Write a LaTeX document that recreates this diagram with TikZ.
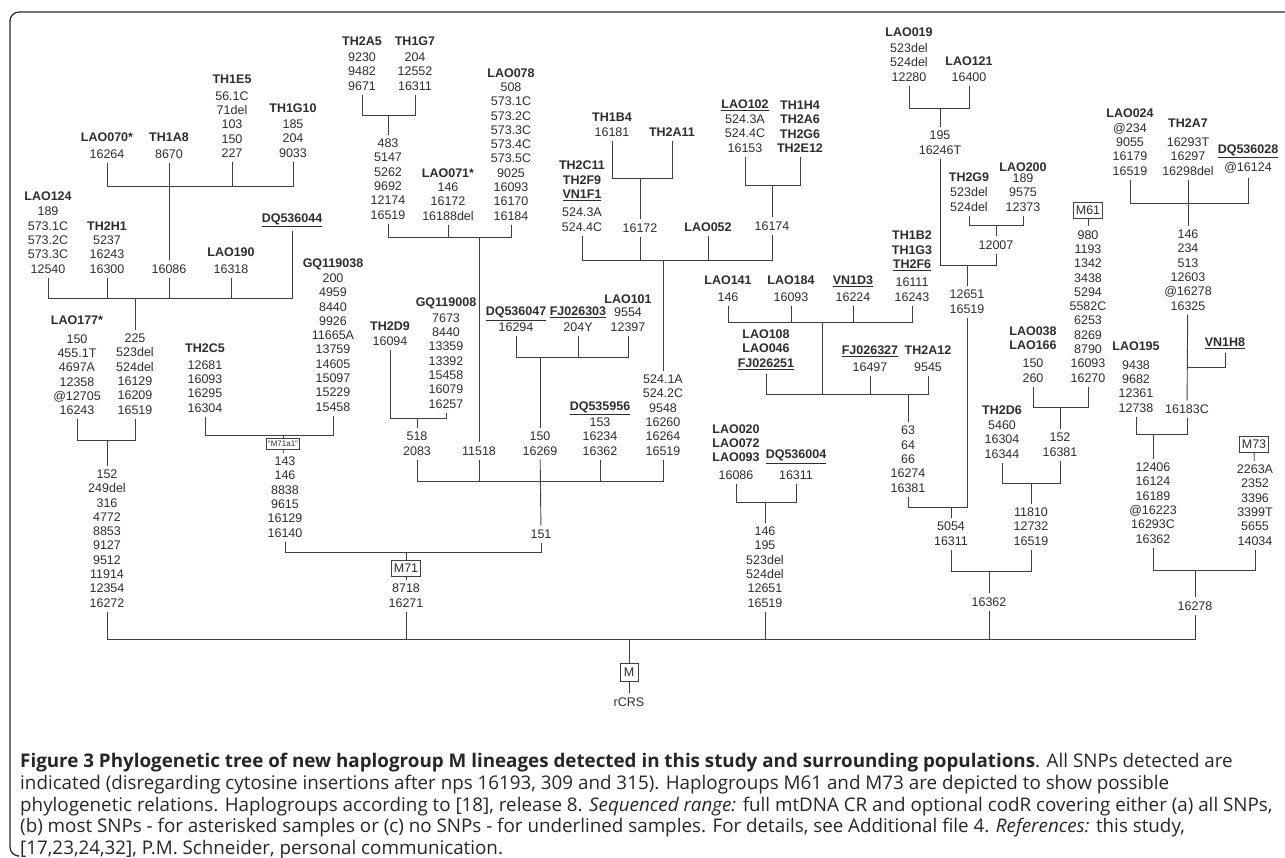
\documentclass[tikz,border=0pt]{standalone}
\usepackage{fontspec}
\setmainfont{Liberation Sans}
\newfontfamily\capfont{Open Sans}
\definecolor{treeline}{RGB}{64,64,64}
\definecolor{treetext}{RGB}{45,45,45}
\newcommand{\smp}[1]{\textbf{#1}}
\newcommand{\usmp}[1]{\underline{\textbf{#1}}}
\tikzset{
  wire/.style={draw=treeline,line width=0.9pt},
  val/.style={font=\fontsize{12.5}{14.3}\selectfont,text=treetext,align=center,
              inner xsep=1pt,inner ysep=4pt},
  hap/.style={draw=treeline,line width=0.8pt,font=\fontsize{12.5}{14}\selectfont,
              text=treetext,inner xsep=2pt,inner ysep=1pt,minimum height=16pt},
  hapsmall/.style={hap,font=\fontsize{8}{9}\selectfont,minimum height=11pt,inner xsep=1.5pt},
  frame/.style={draw=black!85,line width=1.2pt,rounded corners=9pt},
  caption/.style={font=\capfont\fontsize{18.8}{21.8}\selectfont,text=black!85,align=left,inner sep=0pt},
}

\begin{document}
\begin{tikzpicture}[x=1pt,y=-1pt]
  \useasboundingbox (0,0) rectangle (1285,857);
  \draw[frame] (1285,12) -- (10,12) -- (10,856) -- (17,856);

  \coordinate (barA) at (0,186);   \coordinate (barB) at (0,298);
  \coordinate (barC) at (0,440);   \coordinate (barD) at (0,115);
  \coordinate (barE) at (0,237);   \coordinate (barF) at (0,418);
  \coordinate (barG) at (0,435);   \coordinate (barH) at (0,552);
  \coordinate (barI) at (0,178);   \coordinate (barJ) at (0,185);
  \coordinate (barK) at (0,260);   \coordinate (barL) at (0,357);
  \coordinate (barM) at (0,481);   \coordinate (barN) at (0,322);
  \coordinate (barO) at (0,394);   \coordinate (barP) at (0,502);
  \coordinate (barQ) at (0,108);   \coordinate (barR) at (0,225);
  \coordinate (barS) at (0,265);   \coordinate (barT) at (0,407);
  \coordinate (barU) at (0,483);   \coordinate (barV) at (0,507);
  \coordinate (barW) at (0,571);   \coordinate (barX) at (0,203);
  \coordinate (barZ) at (0,434);   \coordinate (barAA) at (0,570);
  \coordinate (barRoot) at (0,639);

  % left branch
  \node[val,anchor=south] (lao070) at (107,162.5) {\smp{LAO070*}\\[2pt]16264};
  \node[val,anchor=south] (th1a8) at (169,162.5) {\smp{TH1A8}\\[2pt]8670};
  \node[val,anchor=south] (th1e5) at (232,161.5) {\smp{TH1E5}\\[2pt]56.1C\\71del\\103\\150\\227};
  \node[val,anchor=south] (th1g10) at (293,161.5) {\smp{TH1G10}\\[2pt]185\\204\\9033};
  \node[val] (n16086) at (169,269) {16086};
  \node[val,anchor=south] (lao124) at (48,277.5) {\smp{LAO124}\\[1pt]189\\573.1C\\573.2C\\573.3C\\12540};
  \node[val,anchor=south] (th2h1) at (107,277.5) {\smp{TH2H1}\\5237\\16243\\16300};
  \node[val,anchor=south] (lao190) at (231,277.5) {\smp{LAO190}\\[2pt]16318};
  \node[val] (dq536044) at (292,220) {\usmp{DQ536044}};
  \node[val,anchor=south] (n225) at (135,418.5) {225\\523del\\524del\\16129\\16209\\16519};
  \node[val,anchor=south] (lao177) at (77,419) {\smp{LAO177*}\\[4pt]150\\455.1T\\4697A\\12358\\@12705\\16243};
  \node[val,anchor=south] (n152) at (107,611.5) {152\\249del\\316\\4772\\8853\\9127\\9512\\11914\\12354\\16272};

  \draw[wire] (lao070.south) |- (th1g10.south |- barA) -- (th1g10.south);
  \draw[wire] (th1e5.south) -- (th1e5.south |- barA);
  \draw[wire] (th1a8.south) -- (n16086.north);
  \draw[wire] (lao124.south) |- (dq536044.south |- barB) -- (dq536044.south);
  \draw[wire] (th2h1.south) -- (th2h1.south |- barB);
  \draw[wire] (n16086.south) -- (n16086.south |- barB);
  \draw[wire] (lao190.south) -- (lao190.south |- barB);
  \draw[wire] (n225.north |- barB) -- (n225.north);
  \draw[wire] (lao177.south) |- (n225.south |- barC) -- (n225.south);
  \draw[wire] (n152.north |- barC) -- (n152.north);

  % M71
  \node[val,anchor=south] (th2a5) at (362,94.5) {\smp{TH2A5}\\[2pt]9230\\9482\\9671};
  \node[val,anchor=south] (th1g7) at (415,94.5) {\smp{TH1G7}\\[2pt]204\\12552\\16311};
  \node[val,anchor=south] (n483) at (388,223.5) {483\\5147\\5262\\9692\\12174\\16519};
  \node[val,anchor=south] (lao071) at (448,224.5) {\smp{LAO071*}\\146\\16172\\16188del};
  \node[val,anchor=south] (lao078) at (511,224.5)
    {\smp{LAO078}\\508\\573.1C\\573.2C\\573.3C\\573.4C\\573.5C\\9025\\16093\\16170\\16184};
  \node[val] (n11518) at (479,451) {11518};
  \node[val,anchor=south] (th2d9) at (390,349.5) {\smp{TH2D9}\\16094};
  \node[val,anchor=south] (gq119008) at (446,412.5)
    {\smp{GQ119008}\\[2pt]7673\\8440\\13359\\13392\\15458\\16079\\16257};
  \node[val,anchor=south] (n518) at (417,459.5) {518\\2083};
  \node[val,anchor=south] (th2c5) at (205,416.5) {\smp{TH2C5}\\[2pt]12681\\16093\\16295\\16304};
  \node[val,anchor=south] (gq119038) at (333,415.5)
    {\smp{GQ119038}\\[1pt]200\\4959\\8440\\9926\\11665A\\13759\\14605\\15097\\15229\\15458};
  \node[hapsmall] (m71a1) at (283,444) {“M71a1”};
  \node[val,anchor=south] (n143) at (285,541.5) {143\\146\\8838\\9615\\16129\\16140};
  \node[hap] (m71) at (406,568) {M71};
  \node[val,anchor=south] (n8718) at (406,611.5) {8718\\16271};

  \node[val,anchor=south] (th2c11) at (582,235.5)
    {\smp{TH2C11}\\\smp{TH2F9}\\\usmp{VN1F1}\\[4pt]524.3A\\524.4C};
  \node[val,anchor=south] (th1b4) at (612,140.5) {\smp{TH1B4}\\16181};
  \node[val] (th2a11) at (672,132) {\smp{TH2A11}};
  \node[val] (n16172) at (640,228) {16172};
  \node[val] (lao052) at (708,227) {\smp{LAO052}};
  \node[val,anchor=south] (lao102) at (745,156.5) {\usmp{LAO102}\\[1pt]524.3A\\524.4C\\16153};
  \node[val,anchor=south] (th1h4) at (800,156.5) {\smp{TH1H4}\\\smp{TH2A6}\\\smp{TH2G6}\\\smp{TH2E12}};
  \node[val] (n16174) at (772,226) {16174};
  \node[val,anchor=south] (n524) at (663,459.5) {524.1A\\524.2C\\9548\\16260\\16264\\16519};
  \node[val,anchor=south] (dq536047) at (516,335.5) {\usmp{DQ536047}\\[1pt]16294};
  \node[val,anchor=south] (fj026303) at (578,335.5) {\usmp{FJ026303}\\[1pt]204Y};
  \node[val,anchor=south] (lao101) at (628,335.5) {\smp{LAO101}\\[-1pt]9554\\12397};
  \node[val,anchor=south] (n150) at (540,459.5) {150\\16269};
  \node[val,anchor=south] (dq535956) at (600,459.5) {\usmp{DQ535956}\\[2pt]153\\16234\\16362};
  \node[val] (n151) at (541,534) {151};

  \draw[wire] (th2a5.south) |- (th1g7.south |- barD) -- (th1g7.south);
  \draw[wire] (n483.north |- barD) -- (n483.north);
  \draw[wire] (n483.south) |- (lao078.south |- barE) -- (lao078.south);
  \draw[wire] (lao071.south) -- (lao071.south |- barE);
  \draw[wire] (n11518.north |- barE) -- (n11518.north);
  \draw[wire] (th2d9.south) |- (gq119008.south |- barF) -- (gq119008.south);
  \draw[wire] (n518.north |- barF) -- (n518.north);
  \draw[wire] (th2c5.south) |- (gq119038.south |- barG) -- (gq119038.south);
  \draw[wire] (m71a1.north |- barG) -- (m71a1.north);
  \draw[wire] (m71a1) -- (n143);
  \draw[wire] (th1b4.south) |- (th2a11.south |- barI) -- (th2a11.south);
  \draw[wire] (n16172.north |- barI) -- (n16172.north);
  \draw[wire] (lao102.south) |- (th1h4.south |- barJ) -- (th1h4.south);
  \draw[wire] (n16174.north |- barJ) -- (n16174.north);
  \draw[wire] (th2c11.south) |- (n16174.south |- barK) -- (n16174.south);
  \draw[wire] (n16172.south) -- (n16172.south |- barK);
  \draw[wire] (lao052.south) -- (lao052.south |- barK);
  \draw[wire] (n524.north |- barK) -- (n524.north);
  \draw[wire] (dq536047.south) |- (lao101.south |- barL) -- (lao101.south);
  \draw[wire] (fj026303.south) -- (fj026303.south |- barL);
  \draw[wire] (n150.north |- barL) -- (n150.north);
  \draw[wire] (n518.south) |- (n524.south |- barM) -- (n524.south);
  \draw[wire] (n11518.south) -- (n11518.south |- barM);
  \draw[wire] (dq535956.south) -- (dq535956.south |- barM);
  \draw[wire] (n150) -- (n151);
  \draw[wire] (n143.south) |- (n151.south |- barH) -- (n151.south);
  \draw[wire] (m71.north |- barH) -- (m71.north);
  \draw[wire] (m71) -- (n8718);

  % middle branch
  \node[val,anchor=south] (lao141) at (728,305.5) {\smp{LAO141}\\[2pt]146};
  \node[val,anchor=south] (lao184) at (791,305.5) {\smp{LAO184}\\[2pt]16093};
  \node[val,anchor=south] (vn1d3) at (853,305.5) {\usmp{VN1D3}\\[2pt]16224};
  \node[val,anchor=south] (th1b2) at (912,305.5) {\smp{TH1B2}\\\smp{TH1G3}\\\usmp{TH2F6}\\[4pt]16111\\16243};
  \coordinate (knotN) at (822,322);
  \node[val,anchor=south] (lao108) at (766,373.5) {\smp{LAO108}\\\smp{LAO046}\\\usmp{FJ026251}};
  \node[val,anchor=south] (fj026327) at (870,375.5) {\usmp{FJ026327}\\[2pt]16497};
  \node[val,anchor=south] (th2a12) at (928,375.5) {\smp{TH2A12}\\[2pt]9545};
  \node[val,anchor=south] (n63) at (908,496.5) {63\\64\\66\\16274\\16381};
  \node[val,anchor=south] (lao020) at (736,483.5) {\smp{LAO020}\\\smp{LAO072}\\\smp{LAO093}\\[3pt]16086};
  \node[val,anchor=south] (dq536004) at (796,483.5) {\usmp{DQ536004}\\[6pt]16311};
  \node[val,anchor=south] (n146) at (765,611.5) {146\\195\\523del\\524del\\12651\\16519};

  \draw[wire] (lao141.south) |- (th1b2.south |- barN) -- (th1b2.south);
  \draw[wire] (lao184.south) -- (lao184.south |- barN);
  \draw[wire] (vn1d3.south) -- (vn1d3.south |- barN);
  \draw[wire] (knotN) -- (knotN |- barO);
  \draw[wire] (lao108.south) |- (th2a12.south |- barO) -- (th2a12.south);
  \draw[wire] (fj026327.south) -- (fj026327.south |- barO);
  \draw[wire] (n63.north |- barO) -- (n63.north);
  \draw[wire] (lao020.south) |- (dq536004.south |- barP) -- (dq536004.south);
  \draw[wire] (n146.north |- barP) -- (n146.north);

  % right branch
  \node[val,anchor=south] (lao019) at (909,85.5) {\smp{LAO019}\\[2pt]523del\\524del\\12280};
  \node[val,anchor=south] (lao121) at (969,85.5) {\smp{LAO121}\\[1pt]16400};
  \node[val,anchor=south] (n195) at (940,158.5) {195\\16246T};
  \node[val,anchor=south] (th2g9) at (969,215.5) {\smp{TH2G9}\\[1pt]523del\\524del};
  \node[val,anchor=south] (lao200) at (1023,215.5) {\smp{LAO200}\\[-3pt]189\\9575\\12373};
  \node[val] (n12007) at (996,245) {12007};
  \node[val,anchor=south] (n12651) at (967,317.5) {12651\\16519};
  \node[hap] (m61) at (1088,210) {M61};
  \node[val,anchor=south] (n980) at (1088,386.5)
    {980\\1193\\1342\\3438\\5294\\5582C\\6253\\8269\\8790\\16093\\16270};
  \node[val,anchor=south] (lao038) at (1033,386.5) {\smp{LAO038}\\\smp{LAO166}\\[4pt]150\\260};
  \node[val,anchor=south] (n152b) at (1060,460.5) {152\\16381};
  \node[val,anchor=south] (th2d6) at (1002,462.5) {\smp{TH2D6}\\[1pt]5460\\16304\\16344};
  \node[val,anchor=south] (n11810) at (1031,549.5) {11810\\12732\\16519};
  \node[val,anchor=south] (n5054) at (951,549.5) {5054\\16311};
  \node[val] (n16362) at (989,602) {16362};

  \draw[wire] (lao019.south) |- (lao121.south |- barQ) -- (lao121.south);
  \draw[wire] (n195.north |- barQ) -- (n195.north);
  \draw[wire] (th2g9.south) |- (lao200.south |- barR) -- (lao200.south);
  \draw[wire] (n12007.north |- barR) -- (n12007.north);
  \draw[wire] (n195.south) |- (n12007.south |- barS) -- (n12007.south);
  \draw[wire] (n12651.north |- barS) -- (n12651.north);
  \draw[wire] (m61) -- (n980);
  \draw[wire] (lao038.south) |- (n980.south |- barT) -- (n980.south);
  \draw[wire] (n152b.north |- barT) -- (n152b.north);
  \draw[wire] (th2d6.south) |- (n152b.south |- barU) -- (n152b.south);
  \draw[wire] (n11810.north |- barU) -- (n11810.north);
  \draw[wire] (n63.south) |- (n12651.south |- barV) -- (n12651.south);
  \draw[wire] (n5054.north |- barV) -- (n5054.north);
  \draw[wire] (n5054.south) |- (n11810.south |- barW) -- (n11810.south);
  \draw[wire] (n16362.north |- barW) -- (n16362.north);

  \node[val,anchor=south] (lao024) at (1130,179.5) {\smp{LAO024}\\@234\\9055\\16179\\16519};
  \node[val,anchor=south] (th2a7) at (1188,179.5) {\smp{TH2A7}\\[5pt]16293T\\16297\\16298del};
  \node[val,anchor=south] (dq536028) at (1248,177.5) {\usmp{DQ536028}\\[4pt]@16124};
  \node[val,anchor=south] (n146b) at (1188,314.5) {146\\234\\513\\12603\\@16278\\16325};
  \node[val] (vn1h8) at (1225,343) {\usmp{VN1H8}};
  \node[val] (n16183c) at (1187,409) {16183C};
  \coordinate (knotY) at (1187,367);
  \node[val,anchor=south] (lao195) at (1136,416.5) {\smp{LAO195}\\[4pt]9438\\9682\\12361\\12738};
  \node[val,anchor=south] (n12406) at (1153,547.5) {12406\\16124\\16189\\@16223\\16293C\\16362};
  \node[hap] (m73) at (1254,444) {M73};
  \node[val,anchor=south] (n2263) at (1255,549.5) {2263A\\2352\\3396\\3399T\\5655\\14034};
  \node[val] (n16278) at (1195,606) {16278};

  \draw[wire] (lao024.south) |- (dq536028.south |- barX) -- (dq536028.south);
  \draw[wire] (th2a7) -- (n146b);
  \draw[wire] (n146b) -- (n16183c);
  \draw[wire] (vn1h8.south) |- (knotY);
  \draw[wire] (lao195.south) |- (n16183c.south |- barZ) -- (n16183c.south);
  \draw[wire] (n12406.north |- barZ) -- (n12406.north);
  \draw[wire] (m73) -- (n2263);
  \draw[wire] (n12406.south) |- (n2263.south |- barAA) -- (n2263.south);
  \draw[wire] (n16278.north |- barAA) -- (n16278.north);

  % root
  \node[hap,minimum width=18pt,minimum height=18pt] (mroot) at (629,672) {M};
  \node[val] (rcrs) at (629,702) {rCRS};
  \draw[wire] (n152.south) |- (n16278.south |- barRoot) -- (n16278.south);
  \draw[wire] (n8718.south) -- (n8718.south |- barRoot);
  \draw[wire] (n146.south) -- (n146.south |- barRoot);
  \draw[wire] (n16362.south) -- (n16362.south |- barRoot);
  \draw[wire] (mroot.north |- barRoot) -- (mroot.north);
  \draw[wire] (mroot) -- (rcrs);

  \node[caption,anchor=north west] (cap) at (20,753)
    {\textbf{Figure 3 Phylogenetic tree of new haplogroup M lineages detected in this study and surrounding populations}. All SNPs detected are\\
     indicated (disregarding cytosine insertions after nps 16193, 309 and 315). Haplogroups M61 and M73 are depicted to show possible\\
     phylogenetic relations. Haplogroups according to [18], release 8. \textit{Sequenced range:} full mtDNA CR and optional codR covering either (a) all SNPs,\\
     (b) most SNPs - for asterisked samples or (c) no SNPs - for underlined samples. For details, see Additional file 4. \textit{References:} this study,\\{}[17,23,24,32], P.M. Schneider, personal communication.};
\end{tikzpicture}
\end{document}
